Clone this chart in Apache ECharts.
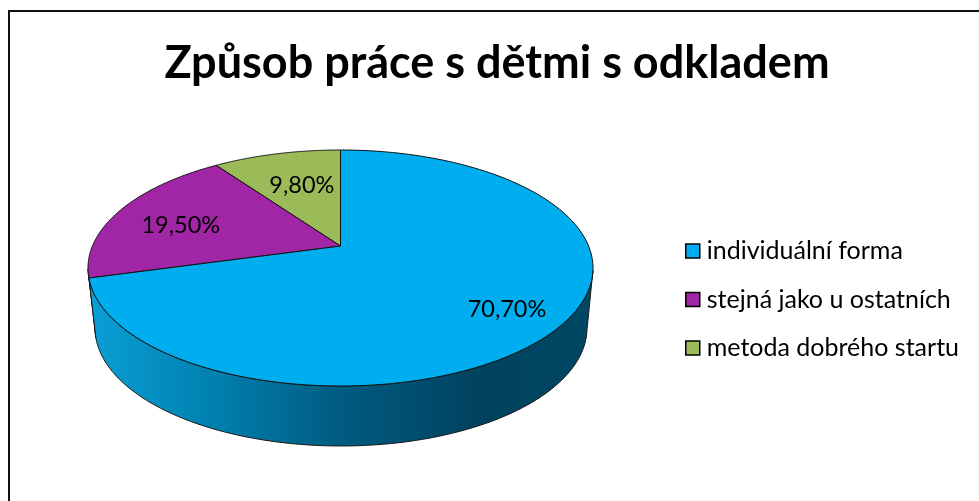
<!DOCTYPE html>
<html><head><meta charset="utf-8">
<style>html,body{margin:0;padding:0;background:#fff}#c{width:979px;height:501px}</style>
<script src="https://cdn.jsdelivr.net/npm/echarts@6/dist/echarts.min.js"></script>
</head><body><div id="c"></div>
<script>
const categories = ['individuální forma', 'stejná jako u ostatních', 'metoda dobrého startu'];
const values = [70.7, 19.5, 9.8];
const chartTitle = 'Způsob práce s dětmi s odkladem';

const colors = ['#00AEEF', '#A126A5', '#9BBB59'];
const FONT = 'Lato, Carlito, "Open Sans", sans-serif';
const labelRadius = [0.77, 0.70, 0.63];
const labelNudge = [[0, 5], [-3, 5], [4, 1]];
// Ellipse of the tilted disc and the perspective shift of its centre
const geo = { cx: 340.5, cy: 268, rx: 252.5, ry: 118, k: -0.186, depth: 60, rxBottom: 246, cxBottom: 341 };
const total = values.reduce((a, b) => a + b, 0);

function project(theta, f) {
  const u = f * Math.sin(theta), v = -f * Math.cos(theta);
  const d = 1 + geo.k * v;
  return [u * Math.sqrt(1 - geo.k * geo.k) / d, (v + geo.k) / d];
}
const toTop = p => [geo.cx + p[0] * geo.rx, geo.cy + p[1] * geo.ry];
const toBottom = p => [geo.cxBottom + p[0] * geo.rxBottom, geo.cy + geo.depth + p[1] * geo.ry];

function sliceItem(idx) {
  return function (params, api) {
    const value = api.value(0);
    let before = 0;
    for (let i = 0; i < idx; i++) before += values[i];
    const a0 = before / total * 2 * Math.PI;
    const a1 = (before + value) / total * 2 * Math.PI;
    const steps = 160;
    const rim = [];
    for (let i = 0; i <= steps; i++) rim.push(project(a0 + (a1 - a0) * i / steps, 1));
    const children = [];
    const front = rim.filter(p => p[1] >= 0);
    if (front.length > 1) {
      children.push({
        type: 'polygon',
        shape: { points: front.map(toTop).concat(front.slice().reverse().map(toBottom)) },
        style: {
          fill: { type: 'linear', x: 0, y: 0, x2: 1, y2: 0, colorStops: [
            { offset: 0, color: '#0A9FD6' }, { offset: 0.25, color: '#0080AE' },
            { offset: 0.5, color: '#005B80' }, { offset: 0.78, color: '#00425E' },
            { offset: 1, color: '#004864' } ] },
          stroke: '#1a1a1a', lineWidth: 1
        }
      });
    }
    const top = [toTop(project(0, 0))].concat(rim.map(toTop));
    children.push({
      type: 'polygon', shape: { points: top },
      style: { fill: colors[idx], stroke: '#111', lineWidth: 1, lineJoin: 'round' }
    });
    const mid = (a0 + a1) / 2;
    const lp = toTop(project(mid, labelRadius[idx]));
    children.push({
      type: 'text', x: lp[0] + labelNudge[idx][0], y: lp[1] + labelNudge[idx][1],
      style: {
        text: value.toFixed(2).replace('.', ',') + '%',
        x: 0, y: 0, align: 'center', verticalAlign: 'middle',
        fill: '#000', font: '23.5px ' + FONT
      }
    });
    return { type: 'group', children };
  };
}

const chart = echarts.init(document.getElementById('c'), null, { renderer: 'canvas' });
chart.setOption({
  animation: false,
  backgroundColor: '#fff',
  title: {
    text: chartTitle, left: 492, top: 36, textAlign: 'center',
    textStyle: { fontFamily: FONT, fontWeight: 'bold', fontSize: 45, color: '#000' }
  },
  legend: {
    orient: 'vertical', left: 680, top: 232, itemWidth: 14, itemHeight: 14, itemGap: 20.5,
    icon: 'rect', selectedMode: false,
    itemStyle: { borderColor: '#000', borderWidth: 1.5 },
    textStyle: { fontFamily: FONT, fontSize: 25, color: '#000', padding: [0, 0, 0, 2], lineHeight: 28 },
    data: categories
  },
  graphic: [
    { type: 'polyline', silent: true, shape: { points: [[9, 501], [9, 11], [979, 11]] },
      style: { stroke: '#111', lineWidth: 2, fill: null } }
  ],
  series: categories.map((name, i) => ({
    type: 'custom', name, coordinateSystem: 'none', silent: true,
    itemStyle: { color: colors[i] },
    renderItem: sliceItem(i),
    data: [[values[i]]],
    z: 3 - i
  }))
});
</script></body></html>
